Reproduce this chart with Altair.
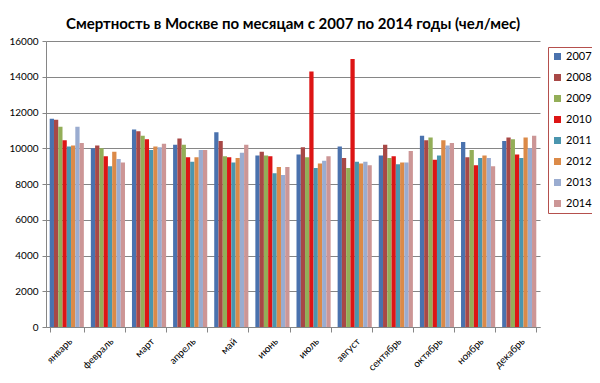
import altair as alt
import pandas as pd

months = ["январь", "февраль", "март", "апрель", "май", "июнь",
          "июль", "август", "сентябрь", "октябрь", "ноябрь", "декабрь"]
years = ["2007", "2008", "2009", "2010", "2011", "2012", "2013", "2014"]

v2007 = [11650, 10000, 11050, 10200, 10900, 9600, 9650, 10100, 9600, 10700, 10350, 10400]
v2008 = [11600, 10150, 10950, 10550, 10400, 9800, 10050, 9450, 10200, 10450, 9500, 10600]
v2009 = [11200, 10000, 10700, 10200, 9550, 9600, 9500, 8900, 9450, 10600, 9900, 10500]
v2010 = [10450, 9550, 10500, 9500, 9500, 9550, 14300, 15000, 9550, 9350, 9050, 9650]
v2011 = [10100, 9000, 9900, 9250, 9200, 8600, 8900, 9250, 9100, 9600, 9450, 9450]
v2012 = [10150, 9800, 10100, 9500, 9450, 8950, 9150, 9150, 9200, 10450, 9600, 10600]
v2013 = [11200, 9400, 10050, 9900, 9750, 8500, 9300, 9250, 9200, 10150, 9450, 10000]
v2014 = [10300, 9200, 10250, 9900, 10200, 8950, 9550, 9050, 9850, 10300, 9000, 10700]

series = [v2007, v2008, v2009, v2010, v2011, v2012, v2013, v2014]
colors = ["#4A72AE", "#A84846", "#93AE58", "#DD1515", "#4A95AE",
          "#DB8A48", "#9AACD0", "#CC9696"]

rows = []
for yr, vals in zip(years, series):
    for m, v in zip(months, vals):
        rows.append({"month": m, "year": yr, "value": v})
df = pd.DataFrame(rows)

font = "Lato"

chart = alt.Chart(df).mark_bar().encode(
    x=alt.X("month:N", sort=months,
            scale=alt.Scale(paddingInner=0.17, paddingOuter=0.09),
            axis=alt.Axis(title=None, labelAngle=-45, tickBand="extent",
                          grid=False, domainColor="#868686", tickColor="#868686",
                          tickSize=5, labelFontSize=10, labelFont=font,
                          labelColor="#000000", labelPadding=4)),
    xOffset=alt.XOffset("year:N", sort=years, scale=alt.Scale(paddingInner=0, paddingOuter=0)),
    y=alt.Y("value:Q", scale=alt.Scale(domain=[0, 16000], nice=False),
            axis=alt.Axis(title=None, values=list(range(0, 16001, 2000)), format="d",
                          grid=True, gridColor="#868686", gridWidth=1,
                          domainColor="#868686", tickColor="#868686", tickSize=4,
                          labelFontSize=10, labelFont=font, labelColor="#000000",
                          labelPadding=4)),
    color=alt.Color("year:N", sort=years,
                    scale=alt.Scale(domain=years, range=colors),
                    legend=alt.Legend(title=None, orient="none", legendX=502, legendY=6,
                                      symbolType="square", symbolSize=49,
                                      symbolStrokeWidth=0, symbolOffset=0,
                                      labelFontSize=11, labelFont=font, labelOffset=3,
                                      labelColor="#000000", rowPadding=9,
                                      strokeColor="#B5504D", padding=4,
                                      fillColor="#FFFFFF")),
).properties(
    width=494, height=286,
    title=alt.TitleParams("Смертность в Москве по месяцам с 2007 по 2014 годы (чел/мес)",
                          font=font, fontSize=15, fontWeight="bold", color="#000000",
                          anchor="middle", offset=4),
    padding={"left": 38, "top": 33, "right": 52, "bottom": 48},
    autosize="none",
).configure_view(stroke=None)

chart.save("out.html", embed_options={"renderer": "svg", "actions": False})
